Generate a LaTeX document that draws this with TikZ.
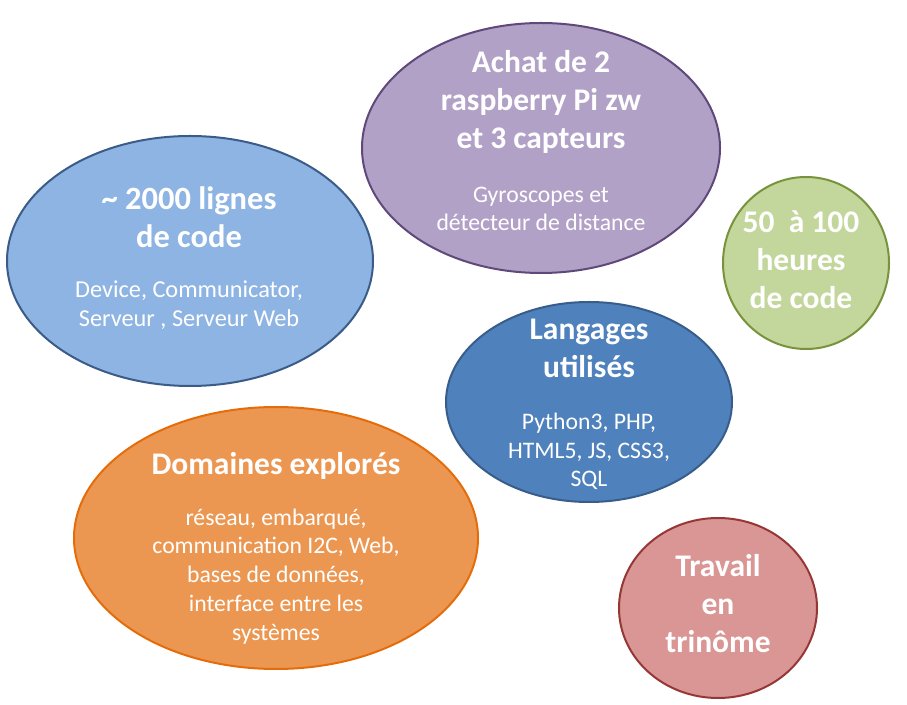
\documentclass[tikz,border=0pt]{standalone}
\usepackage{fontspec}
\setmainfont{Carlito}
\usepackage{tikz}
\usetikzlibrary{shapes.geometric, positioning}
\definecolor{lignescolor}{RGB}{141,180,226}
\definecolor{lignesborder}{RGB}{59,91,136}
\definecolor{achatcolor}{RGB}{178,161,199}
\definecolor{achatborder}{RGB}{95,73,122}
\definecolor{heurescolor}{RGB}{195,214,155}
\definecolor{heuresborder}{RGB}{119,147,60}
\definecolor{langagescolor}{RGB}{79,129,189}
\definecolor{langagesborder}{RGB}{56,93,138}
\definecolor{domainescolor}{RGB}{236,151,81}
\definecolor{domainesborder}{RGB}{228,108,10}
\definecolor{trinomecolor}{RGB}{217,150,148}
\definecolor{trinomeborder}{RGB}{149,55,53}

\begin{document}
\begin{tikzpicture}[
    x=1pt, y=1pt,
    bulle/.style={ellipse, draw, line width=2pt, inner sep=0pt},
    titre/.style={text=white, align=center, anchor=base, inner sep=0pt, font=\fontsize{31.5}{38}\selectfont\bfseries},
    sous/.style={text=white, align=center, anchor=base, inner sep=0pt, font=\fontsize{23.7}{28.7}\selectfont}
]
\useasboundingbox (0,0) rectangle (907,704);

\node (lignes) [bulle, fill=lignescolor, draw=lignesborder, minimum width=366pt, minimum height=250pt] at (190,443) {};
\node (achat) [bulle, fill=achatcolor, draw=achatborder, minimum width=358pt, minimum height=250pt] at (541,556) {};
\node (heures) [bulle, fill=heurescolor, draw=heuresborder, minimum width=166pt, minimum height=172pt] at (806,441) {};
\node (langages) [bulle, fill=langagescolor, draw=langagesborder, minimum width=286pt, minimum height=200pt] at (589,302) {};
\node (domaines) [bulle, fill=domainescolor, draw=domainesborder, minimum width=404pt, minimum height=262pt] at (276,166) {};
\node (trinome) [bulle, fill=trinomecolor, draw=trinomeborder, minimum width=198pt, minimum height=180pt] at (718,96) {};

\node (lignes-titre) [titre, font=\fontsize{32.5}{38}\selectfont\bfseries] at (189,456) {\textasciitilde{} 2000 lignes\\de code};
\node (lignes-sous) [sous, font=\fontsize{24.3}{29}\selectfont] at (189,377) {Device, Communicator,\\Serveur , Serveur Web};
\node (achat-titre) [titre] at (541,555) {Achat de 2\\raspberry Pi zw\\et 3 capteurs};
\node (achat-sous) [sous] at (541,473) {Gyroscopes et\\détecteur de distance};
\node (heures-titre) [titre] at (801,395) {50~ à 100\\heures\\de code};
\node (langages-titre) [titre] at (589,326) {Langages\\utilisés};
\node (langages-sous) [sous] at (589,217) {Python3, PHP,\\HTML5, JS, CSS3,\\SQL};
\node (domaines-titre) [titre] at (276,229) {Domaines explorés};
\node (domaines-sous) [sous] at (276,64) {réseau, embarqué,\\communication I2C, Web,\\bases de données,\\interface entre les\\systèmes};
\node (trinome-titre) [titre] at (718,52) {Travail\\en\\trinôme};
\end{tikzpicture}
\end{document}
